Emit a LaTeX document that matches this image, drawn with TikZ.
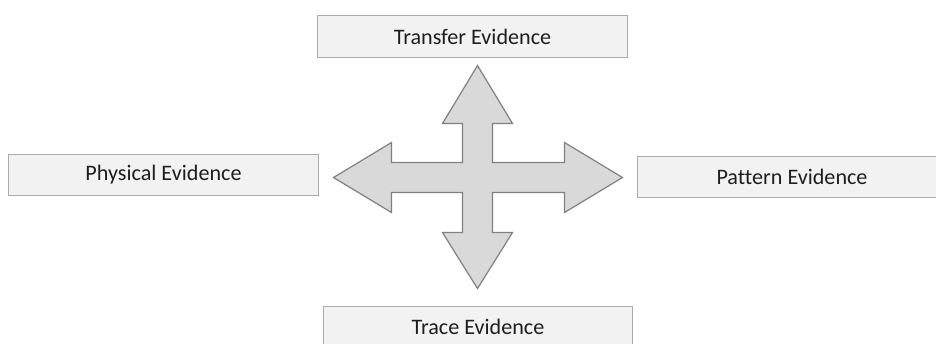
\documentclass[tikz,border=0pt]{standalone}
\usepackage{fontspec}
\setmainfont[Ligatures=NoCommon]{Carlito}
\usepackage{tikz}
\usetikzlibrary{calc}
\definecolor{boxfill}{HTML}{F2F2F2}
\definecolor{boxline}{HTML}{ABABAB}
\definecolor{arrowfill}{HTML}{D9D9D9}
\definecolor{arrowline}{HTML}{808080}
\definecolor{labeltext}{HTML}{1E1E1E}

\begin{document}
\begin{tikzpicture}[x=0.75pt,y=-0.75pt]
\tikzset{
    evbox/.style={draw=boxline, fill=boxfill, line width=0.9pt,
        minimum width=232pt, minimum height=31pt,
        font=\fontsize{16.6}{19}\selectfont, text=labeltext}
}
\clip (0,0) rectangle (936,343);

% Evidence boxes
\node[evbox] (transfer) at (472.5,36.5){Transfer Evidence};
\node[evbox] (physical) at (163.5,175){Physical Evidence};
\node[evbox] (pattern)  at (792,177){Pattern Evidence};
\node[evbox] (trace)    at (478,327){Trace Evidence};

% Four-way arrow
\coordinate (hub) at (477.5,177.5);
\begin{scope}[shift={(hub)}]
\draw[draw=arrowline, fill=arrowfill, line width=0.9pt, line join=miter]
    (0,-112) -- (35,-54) -- (15,-54) -- (15,-15)
    -- (87,-15) -- (87,-35) -- (145,0) -- (87,35) -- (87,15)
    -- (15,15) -- (15,55) -- (35,55) -- (0,111) -- (-35,55) -- (-15,55)
    -- (-15,15) -- (-86,15) -- (-86,35) -- (-144,0) -- (-86,-35) -- (-86,-15)
    -- (-15,-15) -- (-15,-54) -- (-35,-54) -- cycle;
\end{scope}

\end{tikzpicture}
\end{document}
